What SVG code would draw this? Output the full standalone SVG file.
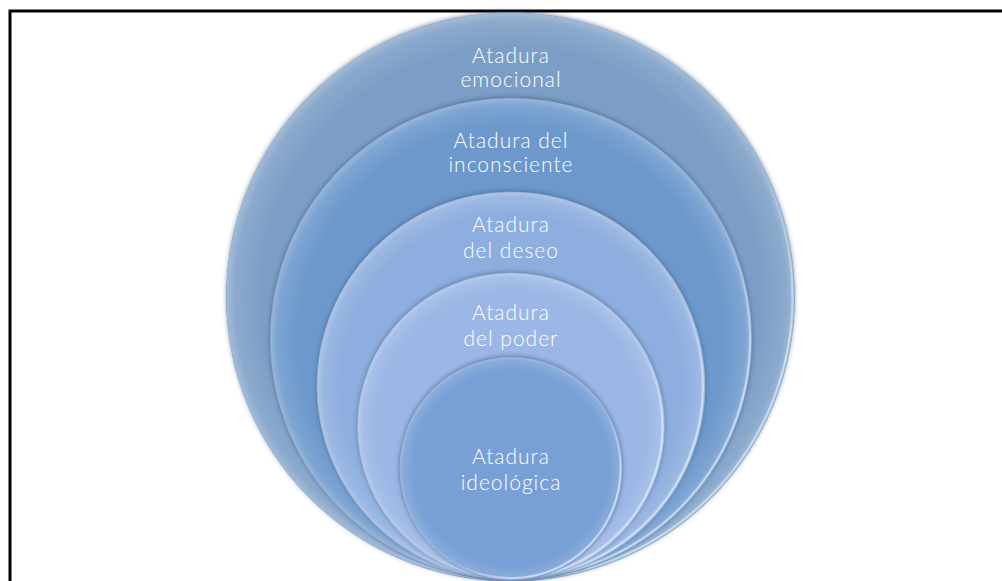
<svg xmlns="http://www.w3.org/2000/svg" width="1002" height="581" viewBox="0 0 1002 581">
<defs>
<radialGradient id="rim" cx="0.5" cy="0.5" r="0.5">
<stop offset="0" stop-color="#ffffff" stop-opacity="0"/>
<stop offset="0.88" stop-color="#ffffff" stop-opacity="0"/>
<stop offset="0.97" stop-color="#ffffff" stop-opacity="0.12"/>
<stop offset="1" stop-color="#ffffff" stop-opacity="0.3"/>
</radialGradient>
<linearGradient id="glint" x1="0" y1="0" x2="1" y2="1">
<stop offset="0" stop-color="#ffffff" stop-opacity="0"/>
<stop offset="0.6" stop-color="#ffffff" stop-opacity="0"/>
<stop offset="0.8" stop-color="#dff0ff" stop-opacity="0.7"/>
<stop offset="1" stop-color="#ffffff" stop-opacity="0.2"/>
</linearGradient>
<filter id="sh" x="-10%" y="-10%" width="120%" height="120%">
<feGaussianBlur in="SourceAlpha" stdDeviation="2"/>
<feOffset dx="0" dy="-1" result="b"/>
<feFlood flood-color="#2a3f5f" flood-opacity="0.45"/>
<feComposite in2="b" operator="in" result="s"/>
<feMerge><feMergeNode in="s"/><feMergeNode in="SourceGraphic"/></feMerge>
</filter>
<style>
.c{stroke-width:1;filter:url(#sh)}
.r{fill:url(#rim);stroke:none}
.g{fill:none;stroke:url(#glint);stroke-width:2}
.t{font-family:Lato,"Open Sans","Liberation Sans",sans-serif;font-weight:300;font-size:21px;letter-spacing:1px;fill:#ffffff;text-anchor:middle}
</style>
</defs>
<rect x="0" y="0" width="1002" height="581" fill="#ffffff"/>
<rect x="10" y="11" width="1000" height="600" fill="none" stroke="#000000" stroke-width="3"/>
<g id="n1">
<circle class="c" cx="510.5" cy="297" r="284" fill="#7c9ec6" stroke="#7f9fc8"/>
<circle class="r" cx="510.5" cy="297" r="284"/>
<circle class="g" cx="510.5" cy="297" r="282"/>
<text class="t" x="511" y="63">Atadura</text>
<text class="t" x="511" y="87">emocional</text>
</g>
<g id="n2">
<circle class="c" cx="511" cy="339" r="241" fill="#6c98cc" stroke="#5f84b4"/>
<circle class="r" cx="511" cy="339" r="241"/>
<circle class="g" cx="511" cy="339" r="239"/>
<text class="t" x="511" y="148">Atadura del</text>
<text class="t" x="511" y="172">inconsciente</text>
</g>
<g id="n3">
<circle class="c" cx="511" cy="386" r="194" fill="#8eaedf" stroke="#7f9cc6"/>
<circle class="r" cx="511" cy="386" r="194"/>
<circle class="g" cx="511" cy="386" r="192"/>
<text class="t" x="511" y="232">Atadura</text>
<text class="t" x="511" y="258">del deseo</text>
</g>
<g id="n4">
<circle class="c" cx="511" cy="426.5" r="153.5" fill="#9cb7e5" stroke="#89a3cc"/>
<circle class="r" cx="511" cy="426.5" r="153.5"/>
<circle class="g" cx="511" cy="426.5" r="151.5"/>
<text class="t" x="511" y="320">Atadura</text>
<text class="t" x="511" y="346">del poder</text>
</g>
<g id="n5">
<circle class="c" cx="511" cy="468.5" r="111.5" fill="#79a0d6" stroke="#6b8ec0"/>
<circle class="r" cx="511" cy="468.5" r="111.5"/>
<circle class="g" cx="511" cy="468.5" r="109.5"/>
<text class="t" x="511" y="464">Atadura</text>
<text class="t" x="511" y="490">ideológica</text>
</g>
<g id="connectors"/>
</svg>
